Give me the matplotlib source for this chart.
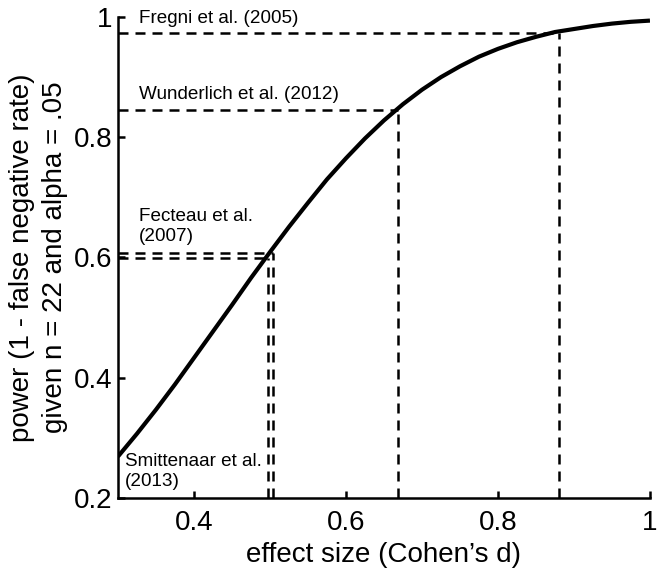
import numpy as np
import matplotlib
matplotlib.use('Agg')
import matplotlib.pyplot as plt

plt.rcParams['font.family'] = ['Liberation Sans', 'DejaVu Sans']

# power curve (n = 22, alpha = .05)
effect_size = [0.3, 0.325, 0.35, 0.375, 0.4, 0.425, 0.45, 0.475, 0.5, 0.525,
               0.55, 0.575, 0.6, 0.625, 0.65, 0.675, 0.7, 0.725, 0.75, 0.775,
               0.8, 0.825, 0.85, 0.875, 0.9, 0.925, 0.95, 0.975, 1.0]
power = [0.269, 0.307, 0.347, 0.389, 0.433, 0.477, 0.521, 0.566, 0.609, 0.651,
         0.691, 0.730, 0.765, 0.798, 0.828, 0.855, 0.879, 0.900, 0.918, 0.934,
         0.947, 0.958, 0.967, 0.975, 0.980, 0.985, 0.989, 0.992, 0.994]

# studies marked on the curve
study_names = ['Fregni et al. (2005)', 'Wunderlich et al. (2012)',
               'Fecteau et al.\n(2007)', 'Smittenaar et al.\n(2013)']
study_d = [0.88, 0.668, 0.504, 0.497]
study_power = [0.974, 0.846, 0.608, 0.599]
label_x = [0.327, 0.327, 0.327, 0.309]
label_y = [0.997, 0.871, 0.651, 0.244]

xticks = [0.4, 0.6, 0.8, 1.0]
xticklabels = ['0.4', '0.6', '0.8', '1']
yticks = [0.2, 0.4, 0.6, 0.8, 1.0]
yticklabels = ['0.2', '0.4', '0.6', '0.8', '1']

fig = plt.figure(figsize=(6.6, 5.72), dpi=100)
ax = fig.add_axes([0.1788, 0.1294, 0.806, 0.8409])

xmin, ymin = 0.3, 0.2
dash = (4, 2.8)
for d, p in zip(study_d, study_power):
    ax.plot([xmin, d], [p, p], color='black', lw=1.8, dashes=dash, solid_capstyle='butt')
    ax.plot([d, d], [ymin, p], color='black', lw=1.8, dashes=dash, solid_capstyle='butt')

ax.plot(effect_size, power, color='black', lw=3, solid_capstyle='butt')

for name, lx, ly in zip(study_names, label_x, label_y):
    ax.text(lx, ly, name, fontsize=13.6, ha='left', va='center', linespacing=1.25)

ax.set_xlim(0.3, 1.0)
ax.set_ylim(0.2, 1.0)
ax.set_xticks(xticks)
ax.set_xticklabels(xticklabels)
ax.set_yticks(yticks)
ax.set_yticklabels(yticklabels)
ax.tick_params(direction='in', length=5, width=1.8, labelsize=20)
ax.tick_params(axis='x', pad=9)
ax.tick_params(axis='y', pad=4)

for s in ['top', 'right']:
    ax.spines[s].set_visible(False)
for s in ['left', 'bottom']:
    ax.spines[s].set_linewidth(1.8)

ax.set_xlabel('effect size (Cohen\u2019s d)', fontsize=20, labelpad=4)
ax.set_ylabel('power (1 - false negative rate)\ngiven n = 22 and alpha = .05',
              fontsize=20, labelpad=4, linespacing=1.35)

fig.savefig('out.png', dpi=100)
